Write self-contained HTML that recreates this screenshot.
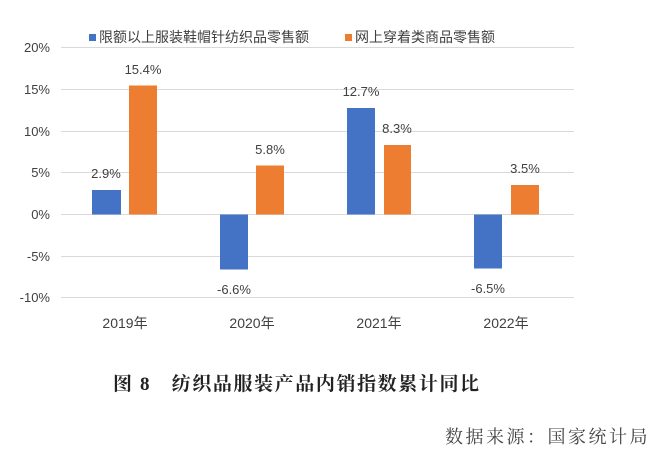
<!DOCTYPE html>
<html><head><meta charset="utf-8"><style>
html,body{margin:0;padding:0;background:#fff;}
svg{display:block;}
text{font-family:"Liberation Sans","Noto Sans CJK SC",sans-serif;fill:#404040;}
</style></head><body>
<svg width="660" height="459" viewBox="0 0 660 459">
<g stroke="#d9d9d9" stroke-width="1">
<line x1="61" x2="574" y1="47.5" y2="47.5"/>
<line x1="61" x2="574" y1="89.5" y2="89.5"/>
<line x1="61" x2="574" y1="131.5" y2="131.5"/>
<line x1="61" x2="574" y1="172.5" y2="172.5"/>
<line x1="61" x2="574" y1="214.5" y2="214.5"/>
<line x1="61" x2="574" y1="256.5" y2="256.5"/>
<line x1="61" x2="574" y1="297.5" y2="297.5"/>
</g>
<g font-size="13" text-anchor="end">
<text x="50" y="52">20%</text>
<text x="50" y="94">15%</text>
<text x="50" y="136">10%</text>
<text x="50" y="177">5%</text>
<text x="50" y="219">0%</text>
<text x="50" y="261">-5%</text>
<text x="50" y="302">-10%</text>
</g>
<g fill="#4472c4">
<rect x="92" y="190" width="29" height="24.5"/>
<rect x="220" y="214.5" width="28" height="55"/>
<rect x="347" y="108" width="28" height="106.5"/>
<rect x="474" y="214.5" width="28" height="54"/>
</g>
<g fill="#ed7d31">
<rect x="129" y="85.5" width="28" height="129"/>
<rect x="256" y="165.5" width="28" height="49"/>
<rect x="384" y="145" width="27" height="69.5"/>
<rect x="511" y="185" width="28" height="29.5"/>
</g>
<g font-size="13" text-anchor="middle">
<text x="106" y="178">2.9%</text>
<text x="143" y="74">15.4%</text>
<text x="234" y="294">-6.6%</text>
<text x="270" y="154">5.8%</text>
<text x="361" y="96">12.7%</text>
<text x="397" y="133">8.3%</text>
<text x="488" y="293">-6.5%</text>
<text x="525" y="173">3.5%</text>
</g>
<g font-size="14" text-anchor="middle">
<text x="125" y="328">2019年</text>
<text x="252" y="328">2020年</text>
<text x="379" y="328">2021年</text>
<text x="506" y="328">2022年</text>
</g>
<rect x="89" y="34" width="7" height="7" fill="#4472c4"/>
<text x="99" y="42" font-size="14">限额以上服装鞋帽针纺织品零售额</text>
<rect x="345" y="34" width="7" height="7" fill="#ed7d31"/>
<text x="355" y="42" font-size="14">网上穿着类商品零售额</text>
<text x="113" y="390" font-size="19" font-weight="bold" style="fill:#222;font-family:'Liberation Serif','Noto Serif CJK SC',serif;letter-spacing:1.6px">图 8　纺织品服装产品内销指数累计同比</text>
<text x="650" y="443" font-size="18" text-anchor="end" style="fill:#444;font-family:'Liberation Serif','Noto Serif CJK SC',serif;letter-spacing:2.5px">数据来源：国家统计局</text>
</svg>
</body></html>
